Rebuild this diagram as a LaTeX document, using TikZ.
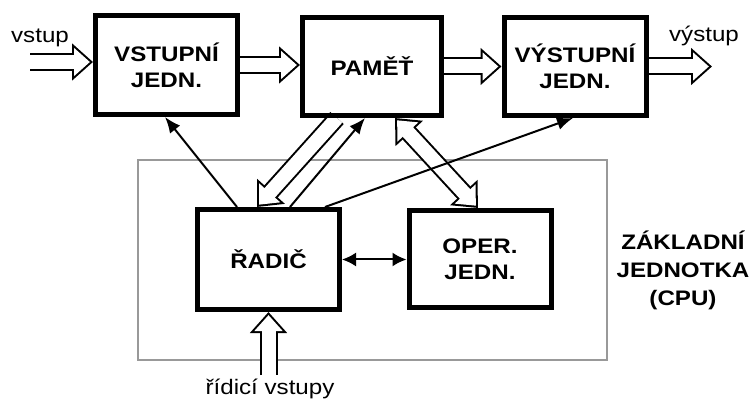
\documentclass[tikz,border=0pt]{standalone}
\usepackage{fontspec}
\setmainfont{Liberation Sans}[FakeStretch=1.15]
\usetikzlibrary{arrows.meta}

\pgfdeclarelayer{pozadi}
\pgfsetlayers{pozadi,main}

\tikzset{
	jednotka/.style = {align = center, draw, line width = 5pt, minimum width = 142pt, minimum height = 99pt, inner sep = 0pt, font = \fontsize{21}{26}\selectfont\bfseries},
	popis/.style = {align = center, inner sep = 0pt, font = \fontsize{21}{28}\selectfont},
	tenka/.style = {line width = 2pt, -{Latex[length=16pt, width=13pt]}},
	dvojita/.style = {line width = 18pt, -{Triangle[length=21pt, width=36pt]},
		postaction = {draw, white, line width = 14pt, shorten >= 3.1pt, -{Triangle[length=15.9pt, width=27.3pt]}}},
	obousmerna/.style = {line width = 18pt, {Triangle[length=21pt, width=36pt]}-{Triangle[length=21pt, width=36pt]},
		postaction = {draw, white, line width = 14pt, shorten >= 3.1pt, shorten <= 3.1pt, {Triangle[length=15.9pt, width=27.3pt]}-{Triangle[length=15.9pt, width=27.3pt]}}},
}

\begin{document}
\begin{tikzpicture}[x = 1pt, y = -1pt]
		\useasboundingbox (0,0) rectangle (749,403);

		\node[jednotka] (vstjed) at (166.5,65) {VSTUPNÍ\\JEDN.};
		\node[jednotka, minimum width = 139pt, minimum height = 98pt] (pamet) at (372,66.5) {PAMĚŤ};
		\node[jednotka, minimum height = 98pt] (vystjed) at (575,66.5) {VÝSTUPNÍ\\JEDN.};
		\node[jednotka, minimum height = 100pt] (radic) at (268.5,259.5) {ŘADIČ};
		\node[jednotka, minimum height = 97pt] (operjed) at (480,259) {OPER.\\JEDN.};

		\node[popis] (lvstup) at (40,38) {vstup};
		\node[popis] (lvystup) at (704,36) {výstup};
		\node[popis] (lridici) at (270,389) {řídicí vstupy};
		\node[popis, font = \fontsize{21}{28}\selectfont\bfseries] (lcpu) at (683,270) {ZÁKLADNÍ\\JEDNOTKA\\(CPU)};

		\coordinate (vstup) at (30,62);
		\coordinate (vystup) at (712,66.5);
		\coordinate (ridici) at (268.5,375);

		\begin{pgfonlayer}{pozadi}
		\node[draw, line width = 1.5pt, black!40, minimum width = 469pt, minimum height = 200pt] (cpu) at (372.5,260) {};

		% sbernice
		\draw[dvojita] (vstup) -- (vstup -| vstjed.west);
		\draw[dvojita] (vstjed.east) -- (vstjed.east -| pamet.west);
		\draw[dvojita] (pamet.east) -- (pamet.east -| vystjed.west);
		\draw[dvojita] (vystjed.east) -- (vystup);
		\draw[dvojita] (ridici) -- (radic.south);
		\draw[dvojita] ([xshift=-35pt]pamet.south) -- ([xshift=-11.5pt]radic.north);
		\draw[obousmerna] ([xshift=23pt]pamet.south) -- ([xshift=-2pt]operjed.north);

		% ridici signaly
		\draw[tenka] ([xshift=-31.5pt]radic.north) -- ([xshift=-1.5pt]vstjed.south);
		\draw[tenka] ([xshift=21.5pt]radic.north) -- ([xshift=-7pt]pamet.south);
		\draw[tenka] ([xshift=56.5pt]radic.north) -- ([xshift=-2pt]vystjed.south);
		\draw[tenka, {Latex[length=14pt, width=14pt]}-{Latex[length=14pt, width=14pt]}] (radic.east) -- (radic.east -| operjed.west);
		\end{pgfonlayer}

	\end{tikzpicture}
\end{document}
